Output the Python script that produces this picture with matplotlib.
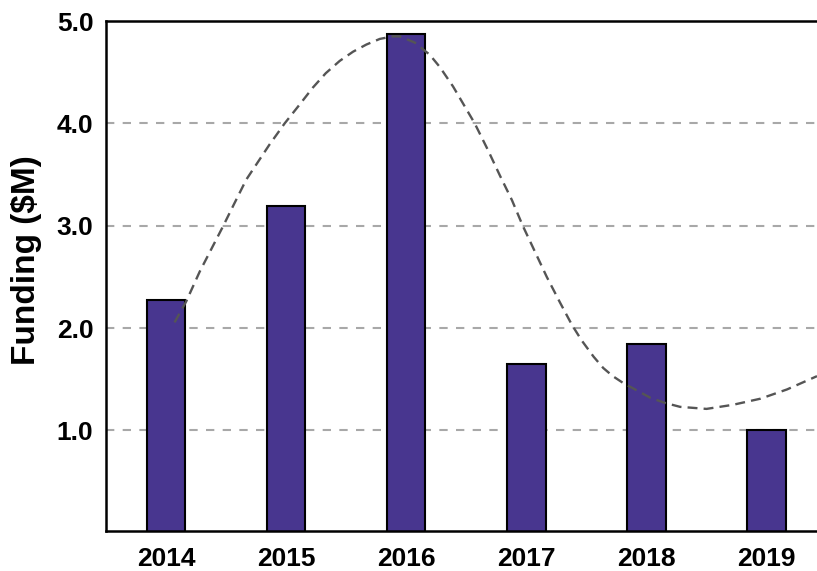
import numpy as np
import matplotlib
matplotlib.use('Agg')
import matplotlib.pyplot as plt
from matplotlib import rcParams

# data
years = ['2014', '2015', '2016', '2017', '2018', '2019']
funding = [2.27, 3.19, 4.87, 1.65, 1.84, 1.00]

# dashed trend curve (x in bar-index units)
trend_x = [0.071, 0.168, 0.28, 0.473, 0.57, 0.668, 0.86, 0.988, 1.11, 1.223,
           1.33, 1.446, 1.557, 1.668, 1.78, 1.89, 1.946, 2.07, 2.196, 2.28,
           2.39, 2.47, 2.57, 2.68, 2.78, 2.88, 2.97, 3.07, 3.17, 3.28, 3.38,
           3.46, 3.56, 3.64, 3.72, 3.81, 3.89, 4.03, 4.15, 4.28, 4.50, 4.72,
           4.95, 5.17, 5.42]
trend_y = [2.055, 2.26, 2.55, 2.99, 3.22, 3.45, 3.79, 4.00, 4.18, 4.35,
           4.49, 4.61, 4.70, 4.77, 4.825, 4.85, 4.85, 4.79, 4.67, 4.55,
           4.36, 4.20, 4.00, 3.74, 3.49, 3.25, 3.00, 2.75, 2.50, 2.25, 2.03,
           1.88, 1.72, 1.61, 1.53, 1.46, 1.41, 1.32, 1.27, 1.23, 1.21, 1.25,
           1.31, 1.40, 1.53]

y_ticks = [1.0, 2.0, 3.0, 4.0, 5.0]

COL_BAR = '#48368F'
COL_GRID = '#A8A8A8'
COL_TREND = '#555555'

rcParams['font.family'] = 'sans-serif'
rcParams['font.sans-serif'] = ['Liberation Sans', 'Arial', 'DejaVu Sans']
rcParams['font.weight'] = 'bold'

fig = plt.figure(figsize=(8.17, 5.71), dpi=100)
ax = fig.add_axes([0.1297, 0.0706, 0.8703, 0.8926])

x = np.arange(len(years))
for yv in y_ticks[:-1]:
    ax.axhline(yv, color=COL_GRID, linewidth=1.5, linestyle=(0, (4, 4)), zorder=1)

ax.bar(x, funding, width=0.32, color=COL_BAR, edgecolor='black',
       linewidth=1.5, zorder=2)
ax.plot(trend_x, trend_y, color=COL_TREND, linewidth=1.7,
        linestyle=(0, (4.2, 2.6)), zorder=3)

ax.set_xlim(-0.5, 5.42)
ax.set_ylim(0.02, 5.0)
ax.set_xticks(x)
ax.set_xticklabels(years, fontsize=19, fontweight='bold')
ax.set_yticks(y_ticks)
ax.set_yticklabels([f'{v:.1f}' for v in y_ticks], fontsize=19, fontweight='bold')
ax.tick_params(axis='both', length=0)
ax.tick_params(axis='y', pad=9)
ax.tick_params(axis='x', pad=12)
ax.set_ylabel('Funding ($M)', fontsize=24, fontweight='bold')
ax.yaxis.set_label_coords(-0.090, 0.531)

ax.spines['right'].set_visible(False)
for s in ('left', 'top', 'bottom'):
    ax.spines[s].set_linewidth(1.8)
    ax.spines[s].set_color('black')

fig.savefig('out.png', dpi=100)
